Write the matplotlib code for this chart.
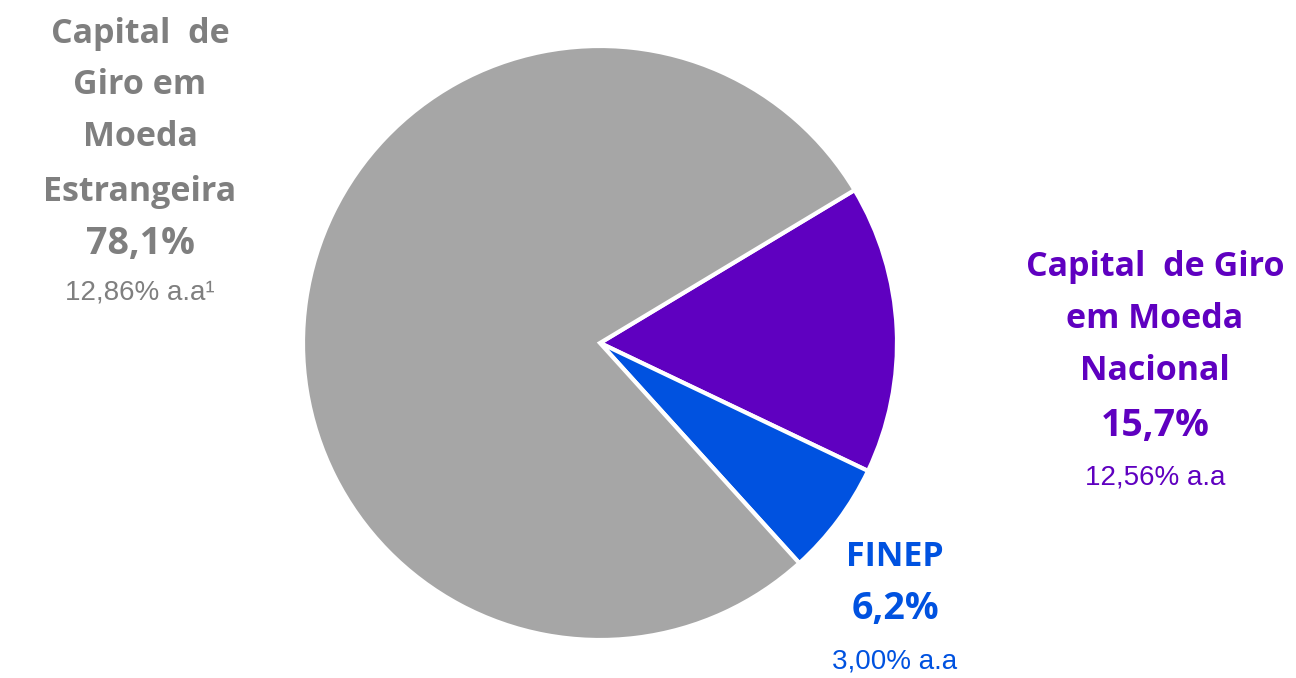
import matplotlib
matplotlib.use("Agg")
import matplotlib.pyplot as plt

# dados
categorias = ["Capital de Giro em Moeda Nacional", "FINEP", "Capital de Giro em Moeda Estrangeira"]
percentuais = [15.7, 6.2, 78.1]
taxas = ["12,56% a.a", "3,00% a.a", "12,86% a.a¹"]
cores = ["#5F00C0", "#0052E0", "#A6A6A6"]
cor_texto_cinza = "#7F7F7F"

W, H = 1296, 678
fig = plt.figure(figsize=(W / 100, H / 100), dpi=100)

# pizza
cx, cy, r = 600, 343, 297
ax = fig.add_axes([(cx - r) / W, (H - cy - r) / H, 2 * r / W, 2 * r / H])
ax.pie(percentuais, colors=cores, startangle=31, counterclock=False,
       wedgeprops=dict(edgecolor="white", linewidth=3))
ax.set_xlim(-1, 1)
ax.set_ylim(-1, 1)
ax.set_aspect("equal")
ax.axis("off")

bold = dict(family="Open Sans", fontweight="bold", fontsize=24.5, ha="center", va="center")
big = dict(bold, fontsize=27)
small = dict(family="Liberation Sans", fontsize=20, ha="center", va="center")


def bloco(x, ys, linhas, pct, taxa, cor):
    for y, t in zip(ys[:-2], linhas):
        fig.text(x / W, 1 - y / H, t, color=cor, **bold)
    fig.text(x / W, 1 - ys[-2] / H, pct, color=cor, **big)
    fig.text(x / W, 1 - ys[-1] / H, taxa, color=cor, **small)


# moeda estrangeira
bloco(140, [34, 85, 137, 192, 244, 292],
      ["Capital  de", "Giro em", "Moeda", "Estrangeira"],
      f"{percentuais[2]:.1f}%".replace(".", ","), taxas[2], cor_texto_cinza)

# moeda nacional
bloco(1155, [267, 319, 371, 426, 478],
      ["Capital  de Giro", "em Moeda", "Nacional"],
      f"{percentuais[0]:.1f}%".replace(".", ","), taxas[0], cores[0])

# finep
bloco(895, [557, 609, 662],
      ["FINEP"],
      f"{percentuais[1]:.1f}%".replace(".", ","), taxas[1], cores[1])

fig.savefig("out.png", dpi=100, facecolor="white")
